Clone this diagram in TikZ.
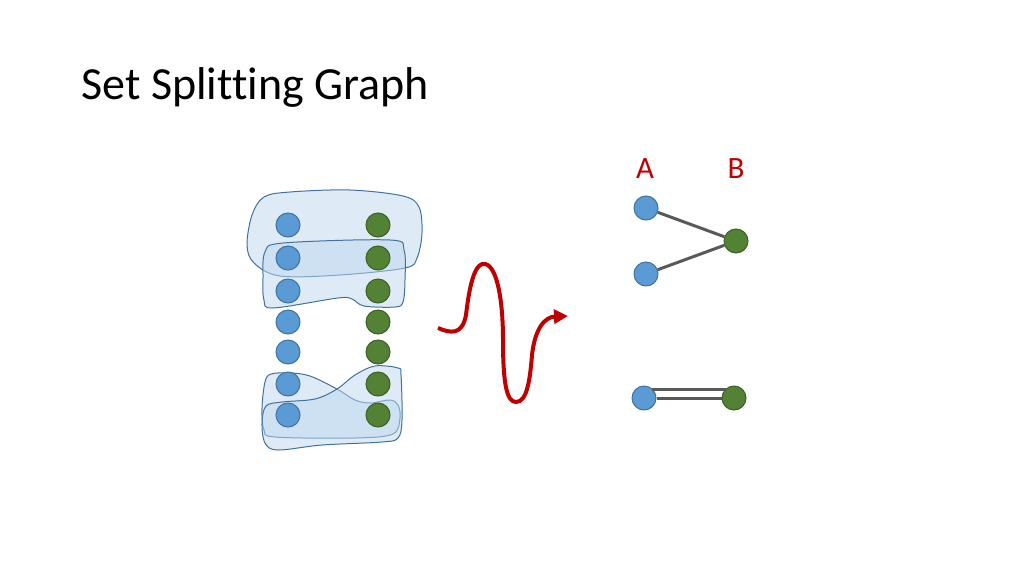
\documentclass[tikz,border=0pt]{standalone}
\usepackage{fontspec}
\setmainfont{Carlito}[Ligatures=NoCommon]
\usepackage{xcolor}
\usetikzlibrary{
    arrows.meta,
    positioning
}
\definecolor{dotblue}{HTML}{5B9BD5}
\definecolor{dotblueline}{HTML}{41719C}
\definecolor{dotgreen}{HTML}{548235}
\definecolor{dotgreenline}{HTML}{3B5E27}
\definecolor{setfill}{HTML}{BDD7EE}
\definecolor{setline}{HTML}{41719C}
\definecolor{arrowred}{HTML}{C00000}
\definecolor{edgegray}{HTML}{595959}
\tikzset{
    bdot/.style={circle, draw=dotblueline, fill=dotblue, line width=1pt, minimum size=24pt, inner sep=0pt},
    gdot/.style={circle, draw=dotgreenline, fill=dotgreen, line width=1pt, minimum size=24pt, inner sep=0pt},
    setblob/.style={draw=setline, line width=1pt, fill=setfill, fill opacity=0.5, tension=0.55},
    graphedge/.style={draw=edgegray, line width=3pt},
    sidelabel/.style={text=arrowred, font=\fontsize{31}{36}\selectfont, anchor=base},
    squig/.style={draw=arrowred, line width=4pt, -{Triangle[length=14pt,width=14pt]}}
}

\begin{document}
\begin{tikzpicture}[x=1pt, y=-1pt]
    \useasboundingbox (0, 0) rectangle (1024, 576);
    \node[anchor=base west, font=\fontsize{46}{55}\selectfont] (title) at (78, 99) {Set Splitting Graph};

    % the sets
    \draw[setblob] plot[smooth cycle] coordinates {(252,215) (264,197) (290,192) (350,190) (403,196) (419,207) (422,233) (417,258) (405,268) (340,275) (280,276) (254,263) (247,245)};
    \draw[setblob] plot[smooth cycle] coordinates {(265,252) (283,243) (390,240) (404,250) (405,280) (403,302) (395,307) (364,306) (352,299) (338,298) (273,308) (264,300) (263,278)};
    \draw[setblob] plot[smooth cycle] coordinates {(265,382) (271,374) (290,373) (310,376) (337,389) (355,400) (370,403) (390,400) (398,405) (400,418) (393,434) (355,438) (275,437) (264,430) (262,408)};
    \draw[setblob] plot[smooth cycle] coordinates {(398,368) (375,366) (355,375) (337,389) (315,399) (282,402) (266,406) (262,423) (265,443) (278,450) (322,445) (382,442) (398,438) (402,420) (401,375)};

    % the elements
    \foreach \y [count=\i] in {225,258,291,322,352,384,415} {
        \node[bdot] (u\i) at (288, \y) {};
        \node[gdot] (v\i) at (378, \y) {};
    }

    % the reduction
    \coordinate (squigstart) at (438, 328);
    \coordinate (squigend) at (568, 316);
    \draw[squig] (squigstart) .. controls (450, 333) and (462, 336) .. (466, 315)
        .. controls (470, 280) and (476, 262) .. (485, 264)
        .. controls (497, 266) and (503, 300) .. (503, 340)
        .. controls (503, 385) and (507, 402) .. (516, 402)
        .. controls (527, 402) and (530, 380) .. (532, 355)
        .. controls (535, 328) and (545, 317) .. (squigend);

    % the graph
    \node[sidelabel] (labA) at (645, 178) {A};
    \node[sidelabel] (labB) at (736, 178) {B};
    \node[bdot] (a1) at (646, 208) {};
    \node[bdot] (a2) at (646, 274) {};
    \node[gdot] (b1) at (736, 241) {};
    \draw[graphedge] (a1) -- (b1);
    \draw[graphedge] (a2) -- (b1);
    \node[bdot] (c1) at (644, 398) {};
    \node[gdot] (d1) at (734, 398) {};
    \draw[graphedge] (c1) -- (d1);
    \draw[graphedge, shorten <=8pt, shorten >=8pt] ([yshift=9pt]c1.center) -- ([yshift=9pt]d1.center);
\end{tikzpicture}
\end{document}
